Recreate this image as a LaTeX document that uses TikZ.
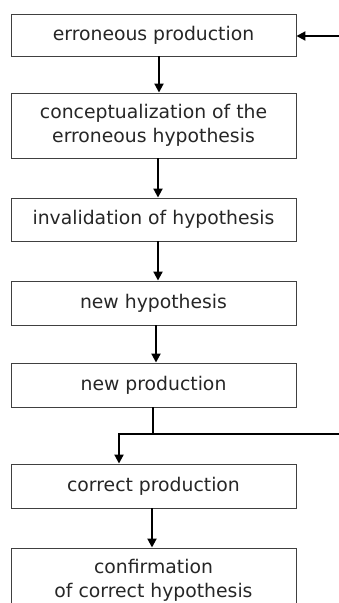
\documentclass[tikz,border=0pt]{standalone}
\usepackage{fontspec}
\setmainfont{DejaVu Sans}
\usetikzlibrary{arrows.meta}
\begin{document}
\begin{tikzpicture}[x=1pt,y=-1pt,
  stage/.style={draw=black!75,line width=0.9pt,minimum width=285pt,inner sep=0pt,
    align=center,font=\fontsize{18.8}{23.5}\selectfont,text=black!85},
  flow/.style={line width=2pt,-{Triangle[width=9pt,length=9pt]}},
  plain/.style={line width=2pt}]
\useasboundingbox (0,0) rectangle (339,603);
\clip (0,0) rectangle (339,603);
\node[stage,minimum height=42pt] (b1) at (153.5,35) {erroneous production};
\node[stage,minimum height=65pt] (b2) at (153.5,125.5) {conceptualization of the\\erroneous hypothesis};
\node[stage,minimum height=43pt] (b3) at (153.5,219.5) {invalidation of hypothesis};
\node[stage,minimum height=44pt] (b4) at (153.5,303) {new hypothesis};
\node[stage,minimum height=44pt] (b5) at (153.5,385) {new production};
\node[stage,minimum height=44pt] (b6) at (153.5,486) {correct production};
\node[stage,minimum height=65pt,anchor=north] (b7) at (153.5,547.5) {confirmation\\of correct hypothesis};
% feedback loop ends
\coordinate (loopin) at (339,36);
\coordinate (loopout) at (339,434);
\coordinate (split) at (153,434);
\coordinate (turn) at (119,434);
\draw[flow] (loopin) -- (b1.east |- loopin);
\draw[flow] ([xshift=5.5pt]b1.south) -- ([xshift=5.5pt]b2.north);
\draw[flow] ([xshift=4.5pt]b2.south) -- ([xshift=4.5pt]b3.north);
\draw[flow] ([xshift=4.5pt]b3.south) -- ([xshift=4.5pt]b4.north);
\draw[flow] ([xshift=2.5pt]b4.south) -- ([xshift=2.5pt]b5.north);
\draw[plain] (b5.south -| split) -- (split);
\draw[plain,line cap=rect] (turn) -- (loopout);
\draw[flow] (turn) -- (b6.north -| turn);
\draw[flow] ([xshift=-1.5pt]b6.south) -- ([xshift=-1.5pt]b7.north);
\end{tikzpicture}
\end{document}
